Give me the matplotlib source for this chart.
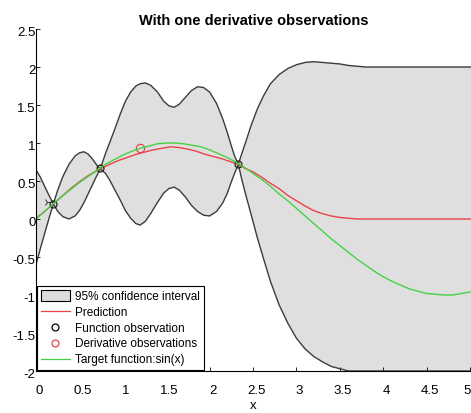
import matplotlib
matplotlib.use('Agg')
import matplotlib.pyplot as plt
from matplotlib.patches import Patch
from matplotlib.lines import Line2D
from matplotlib.ticker import FormatStrFormatter
from matplotlib.transforms import ScaledTranslation

plt.rcParams['font.family'] = ['Liberation Sans', 'DejaVu Sans']

# confidence band (upper / lower bounds)
band_x = [0.00, 0.05, 0.10, 0.15, 0.20, 0.25, 0.31, 0.38, 0.45, 0.50, 0.55, 0.60,
          0.65, 0.70, 0.74, 0.80, 0.85, 0.90, 0.97, 1.03, 1.09, 1.15, 1.20, 1.26,
          1.32, 1.40, 1.47, 1.53, 1.59, 1.65, 1.72, 1.79, 1.86, 1.93, 2.00, 2.08,
          2.15, 2.20, 2.25, 2.29, 2.33, 2.37, 2.42, 2.48, 2.55, 2.62, 2.70, 2.80,
          2.90, 3.00, 3.10, 3.20, 3.30, 3.40, 3.50, 3.60, 3.70, 3.80, 4.00, 4.50, 5.01]
upper = [0.65, 0.55, 0.43, 0.31, 0.20, 0.38, 0.56, 0.72, 0.83, 0.87, 0.885, 0.855,
         0.79, 0.71, 0.66, 0.86, 1.01, 1.16, 1.38, 1.55, 1.67, 1.75, 1.78, 1.79,
         1.76, 1.67, 1.55, 1.49, 1.47, 1.51, 1.60, 1.69, 1.74, 1.73, 1.67, 1.52,
         1.32, 1.15, 0.96, 0.82, 0.72, 0.86, 1.03, 1.24, 1.45, 1.62, 1.78, 1.90,
         1.98, 2.03, 2.06, 2.07, 2.06, 2.05, 2.04, 2.02, 2.01, 2.00, 2.00, 2.00, 2.00]
lower = [-0.60, -0.39, -0.19, 0.01, 0.20, 0.10, 0.03, 0.00, 0.04, 0.11, 0.21, 0.33,
         0.45, 0.57, 0.66, 0.60, 0.51, 0.40, 0.25, 0.11, 0.01, -0.06, -0.08, -0.03,
         0.07, 0.22, 0.34, 0.40, 0.42, 0.38, 0.29, 0.18, 0.10, 0.05, 0.04, 0.10,
         0.21, 0.33, 0.49, 0.61, 0.72, 0.52, 0.30, 0.05, -0.25, -0.52, -0.82, -1.13,
         -1.37, -1.57, -1.71, -1.81, -1.88, -1.94, -1.97, -2.00, -2.00, -2.00, -2.00, -2.00, -2.00]

# GP prediction
pred_x = [0.0, 0.1, 0.2, 0.3, 0.4, 0.5, 0.6, 0.74, 0.85, 0.95, 1.05, 1.15, 1.25,
          1.35, 1.45, 1.55, 1.65, 1.75, 1.85, 1.95, 2.05, 2.15, 2.25, 2.33, 2.4,
          2.5, 2.6, 2.7, 2.8, 2.9, 3.0, 3.1, 3.2, 3.3, 3.4, 3.5, 3.6, 3.7, 3.8,
          4.0, 4.5, 5.01]
pred_y = [0.01, 0.10, 0.20, 0.30, 0.40, 0.49, 0.57, 0.66, 0.72, 0.77, 0.81, 0.85, 0.88,
          0.91, 0.93, 0.95, 0.94, 0.92, 0.89, 0.85, 0.82, 0.79, 0.75, 0.72, 0.67,
          0.62, 0.55, 0.47, 0.40, 0.31, 0.24, 0.17, 0.11, 0.07, 0.04, 0.02, 0.01, 0.0, 0.0,
          0.0, 0.0, 0.0]

# target function sin(x)
target_x = [0.0, 0.1, 0.2, 0.3, 0.4, 0.5, 0.6, 0.7, 0.8, 0.9, 1.0, 1.1, 1.2, 1.3,
            1.4, 1.5, 1.6, 1.7, 1.8, 1.9, 2.0, 2.1, 2.2, 2.3, 2.4, 2.5, 2.6, 2.7,
            2.8, 2.9, 3.0, 3.1, 3.2, 3.3, 3.4, 3.5, 3.6, 3.7, 3.8, 3.9, 4.0, 4.1,
            4.2, 4.3, 4.4, 4.5, 4.6, 4.7, 4.8, 4.9, 5.0]
target_y = [0.00, 0.10, 0.20, 0.30, 0.39, 0.48, 0.56, 0.64, 0.72, 0.78, 0.84, 0.89,
            0.93, 0.96, 0.99, 1.00, 1.00, 0.99, 0.97, 0.95, 0.91, 0.86, 0.81, 0.75,
            0.68, 0.60, 0.52, 0.43, 0.33, 0.24, 0.14, 0.04, -0.06, -0.16, -0.26,
            -0.35, -0.44, -0.53, -0.61, -0.69, -0.76, -0.82, -0.87, -0.92, -0.95,
            -0.98, -0.99, -1.00, -1.00, -0.98, -0.96]

# observations
obs_x = [0.2, 0.74, 2.33]
obs_y = [0.20, 0.67, 0.72]
deriv_x = [1.2]
deriv_y = [0.93]
arrow_x = [0.13]
arrow_y = [0.22]

fig = plt.figure(figsize=(4.71, 4.13), dpi=100)
ax = fig.add_axes([36/471, 42/413, 435/471, 342/413])

ax.fill_between(band_x, lower, upper, facecolor='#dfdfdf', edgecolor='none')
ax.plot(band_x, upper, color='#3c3c3c', lw=1.0)
ax.plot(band_x, lower, color='#3c3c3c', lw=1.0)
ax.plot(pred_x, pred_y, color='#e8434a', lw=1.0)
ax.plot(obs_x, obs_y, 'o', mfc='none', mec='#222222', ms=5, mew=0.9)
ax.plot(deriv_x, deriv_y, 'o', mfc='none', mec='#e8434a', ms=6, mew=0.9)
ax.plot(target_x, target_y, color='#44d244', lw=1.0)
ax.plot(arrow_x, arrow_y, marker='4', color='#333333', ms=6, mew=0.7, ls='none')

ax.set_xlim(0, 5.01)
ax.set_ylim(-2, 2.5)
ax.set_xticks([0, 0.5, 1, 1.5, 2, 2.5, 3, 3.5, 4, 4.5, 5])
ax.set_yticks([-2, -1.5, -1, -0.5, 0, 0.5, 1, 1.5, 2, 2.5])
ax.xaxis.set_major_formatter(FormatStrFormatter('%g'))
ax.yaxis.set_major_formatter(FormatStrFormatter('%g'))
ax.tick_params(direction='in', length=3, width=0.6, labelsize=9.5, colors='black')
ax.tick_params(axis='x', pad=10)
ax.tick_params(axis='y', pad=1)
ax.spines['top'].set_visible(False)
ax.spines['right'].set_visible(False)
for s in ['left', 'bottom']:
    ax.spines[s].set_linewidth(0.8)

xlabs = ax.get_xticklabels()
for i, lab in enumerate(xlabs):
    dx = 3 if i < len(xlabs) - 1 else -3
    lab.set_transform(lab.get_transform() + ScaledTranslation(dx/100, 0, fig.dpi_scale_trans))
for lab in ax.get_yticklabels():
    lab.set_transform(lab.get_transform() + ScaledTranslation(1/100, -3/100, fig.dpi_scale_trans))

ax.set_xlabel('x', fontsize=9.5, labelpad=2)
ax.set_title('With one derivative observations', fontsize=10.5, fontweight='bold', pad=3)

handles = [Patch(facecolor='#dcdcdc', edgecolor='black', linewidth=0.8),
           Line2D([], [], color='#e8434a', lw=0.9),
           Line2D([], [], ls='none', marker='o', mfc='none', mec='black', ms=5, mew=0.9),
           Line2D([], [], ls='none', marker='o', mfc='none', mec='#e8434a', ms=5, mew=0.9),
           Line2D([], [], color='#44d244', lw=0.9)]
labels = ['95% confidence interval', 'Prediction', 'Function observation',
          'Derivative observations', 'Target function:sin(x)']
leg = ax.legend(handles, labels, loc='lower left', bbox_to_anchor=(0.0, 0.0),
                borderaxespad=0.05, fontsize=8.5, fancybox=False, framealpha=1,
                edgecolor='black', handlelength=2.5, handleheight=1.0,
                handletextpad=0.4, labelspacing=0.3, borderpad=0.35)
leg.get_frame().set_linewidth(0.8)

fig.savefig('out.png', dpi=100)
